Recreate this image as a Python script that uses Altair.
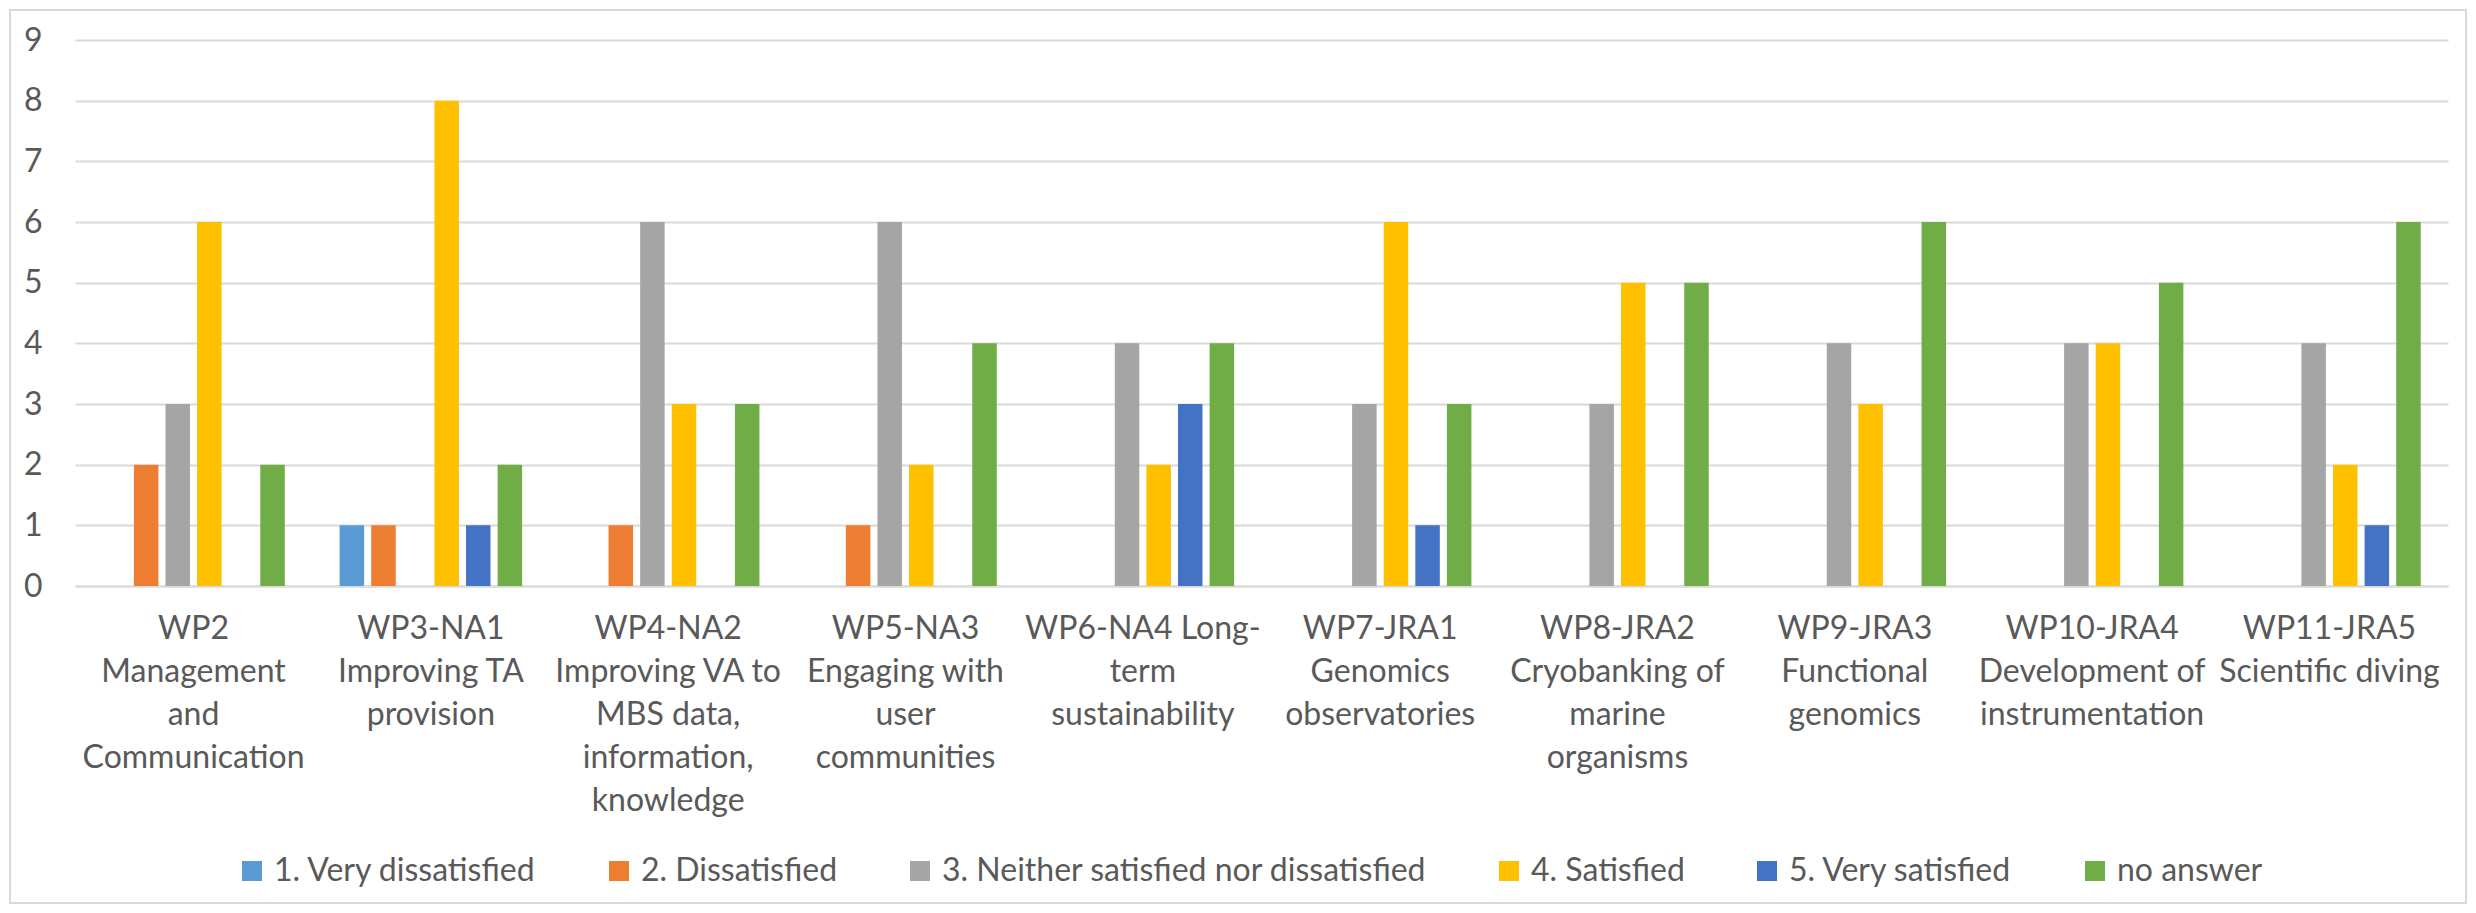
import altair as alt
import pandas as pd

categories = [
    "WP2\nManagement\nand\nCommunication",
    "WP3-NA1\nImproving TA\nprovision",
    "WP4-NA2\nImproving VA to\nMBS data,\ninformation,\nknowledge",
    "WP5-NA3\nEngaging with\nuser\ncommunities",
    "WP6-NA4 Long-\nterm\nsustainability",
    "WP7-JRA1\nGenomics\nobservatories",
    "WP8-JRA2\nCryobanking of\nmarine\norganisms",
    "WP9-JRA3\nFunctional\ngenomics",
    "WP10-JRA4\nDevelopment of\ninstrumentation",
    "WP11-JRA5\nScientific diving",
]

series = [
    "1. Very dissatisfied",
    "2. Dissatisfied",
    "3. Neither satisfied nor dissatisfied",
    "4. Satisfied",
    "5. Very satisfied",
    "no answer",
]
colors = ["#5B9BD5", "#ED7D31", "#A5A5A5", "#FFC000", "#4472C4", "#70AD47"]

very_dissatisfied = [0, 1, 0, 0, 0, 0, 0, 0, 0, 0]
dissatisfied = [2, 1, 1, 1, 0, 0, 0, 0, 0, 0]
neither = [3, 0, 6, 6, 4, 3, 3, 4, 4, 4]
satisfied = [6, 8, 3, 2, 2, 6, 5, 3, 4, 2]
very_satisfied = [0, 1, 0, 0, 3, 1, 0, 0, 0, 1]
no_answer = [2, 2, 3, 4, 4, 3, 5, 6, 5, 6]

values_by_series = [very_dissatisfied, dissatisfied, neither, satisfied, very_satisfied, no_answer]

rows = []
for s, vals in zip(series, values_by_series):
    for c, v in zip(categories, vals):
        rows.append({"category": c, "series": s, "value": v})
df = pd.DataFrame(rows)

FONT = "Lato"
TXT = "#595959"
GRID = "#D9D9D9"

W, H = 2373, 546
PAD_L, PAD_T, PAD_R, PAD_B = 67, 32, 20, 319

bars = alt.Chart(df).mark_bar().encode(
    x=alt.X(
        "category:N",
        sort=categories,
        scale=alt.Scale(paddingInner=0.231, paddingOuter=0.115),
        axis=alt.Axis(
            title=None,
            labelAngle=0,
            labelExpr="split(datum.label, '\\n')",
            labelFont=FONT,
            labelFontSize=32,
            labelColor=TXT,
            labelLineHeight=43,
            labelBaseline="top",
            labelPadding=27,
            labelLimit=1000,
            labelOverlap=False,
            labelBound=False,
            ticks=False,
            domain=True,
            domainColor=GRID,
            domainWidth=2,
            grid=False,
        ),
    ),
    xOffset=alt.XOffset(
        "series:N",
        sort=series,
        scale=alt.Scale(paddingInner=0.225, paddingOuter=0),
    ),
    y=alt.Y(
        "value:Q",
        scale=alt.Scale(domain=[0, 9], nice=False),
        axis=alt.Axis(
            title=None,
            values=list(range(10)),
            labelFont=FONT,
            labelFontSize=32,
            labelColor=TXT,
            labelPadding=33,
            ticks=False,
            domain=False,
            grid=True,
            gridColor=GRID,
            gridWidth=2,
        ),
    ),
    color=alt.Color(
        "series:N",
        sort=series,
        scale=alt.Scale(domain=series, range=colors),
        legend=alt.Legend(
            title=None,
            orient="none",
            legendX=161,
            legendY=815,
            direction="horizontal",
            symbolType="square",
            symbolSize=400,
            symbolStrokeWidth=0,
            labelFont=FONT,
            labelFontSize=32,
            labelColor=TXT,
            labelOffset=6,
            labelLimit=1000,
            columnPadding=66,
            padding=0,
        ),
    ),
)

frame = alt.Chart(alt.Data(values=[{}])).mark_rect(
    fillOpacity=0, stroke=GRID, strokeWidth=2
).encode(
    x=alt.value(-PAD_L + 2),
    x2=alt.value(W + PAD_R - 2),
    y=alt.value(-PAD_T + 2),
    y2=alt.value(H + PAD_B - 2),
)

chart = alt.layer(frame, bars).properties(
    width=W,
    height=H,
    autosize=alt.AutoSizeParams(type="none"),
    padding={"left": PAD_L, "top": PAD_T, "right": PAD_R, "bottom": PAD_B},
    background="white",
).configure_view(stroke=None)

chart.save("out.html", embed_options={"renderer": "svg", "actions": False})
